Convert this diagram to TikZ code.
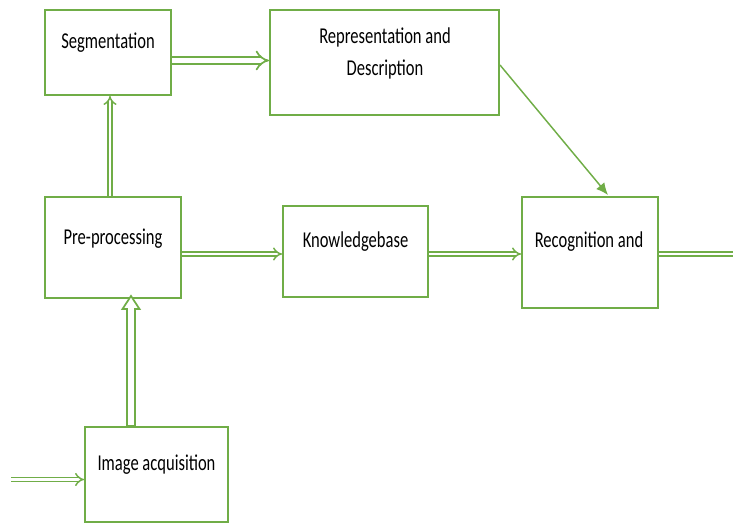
\documentclass[tikz,border=0pt]{standalone}
\usepackage{fontspec}
\setmainfont[FakeStretch=0.73]{Carlito}
\usepackage{tikz}
\usetikzlibrary{%
  arrows.meta,%
  calc%
}
\definecolor{leaf}{RGB}{112,173,71}
\tikzset{>=latex, box/.style = {draw=leaf, line width=1.5pt, inner sep=0pt},
  txt/.style = {font=\fontsize{17}{24}\selectfont, align=center, inner sep=0pt},
  dbl/.style = {draw=leaf, line width=1.1pt, double=white, double distance=2.2pt, -{Implies}},
  link/.style = {draw=leaf, line width=1.1pt, -{Latex[length=9pt,width=8pt]}}}

\begin{document}
\begin{tikzpicture}[x=0.75pt,y=-0.75pt]
    \useasboundingbox (0,0) rectangle (733,527);
    % boxes
    \node[box, minimum width=94.5pt, minimum height=63.75pt] (seg) at (108,52.5) {};
    \node[box, minimum width=171.75pt, minimum height=78.75pt] (rep) at (384.5,62.5) {};
    \node[box, minimum width=102pt, minimum height=75.75pt] (pre) at (113,247.5) {};
    \node[box, minimum width=108.75pt, minimum height=68.25pt] (know) at (355.5,251.5) {};
    \node[box, minimum width=102pt, minimum height=83.25pt] (rec) at (590,252.5) {};
    \node[box, minimum width=107.25pt, minimum height=71.25pt] (acq) at (156.5,474.5) {};
    % texts
    \node[txt] (seg-t) at ($(seg.north)+(0,34)$) {Segmentation};
    \node[txt] (rep-t) at ($(rep.north)+(0.5,44)$) {Representation and\\Description};
    \node[txt] (pre-t) at ($(pre.north)+(0,43)$) {Pre-processing};
    \node[txt] (know-t) at ($(know.north)+(0,37)$) {Knowledgebase};
    \node[txt] (rec-t) at ($(rec.north)+(-1,46)$) {Recognition and};
    \node[txt] (acq-t) at ($(acq.north)+(0,39)$) {Image acquisition};
    % connectors
    \coordinate (sr) at ($(seg.east)+(0,8)$);
    \draw[dbl, line width=1.3pt, double distance=3.8pt] (sr) -- (sr -| rep.west);
    \draw[dbl] ($(pre.north)+(-3,0)$) -- ($(seg.south)+(2,0)$);
    \coordinate (row) at (0,254);
    \draw[dbl] (pre.east |- row) -- (know.west |- row);
    \draw[dbl] (know.east |- row) -- (rec.west |- row);
    \coordinate (out) at (733,254);
    \draw[dbl, -] (rec.east |- out) -- (out);
    \coordinate (in) at (11,479.5);
    \draw[dbl] (in) -- (in -| acq.west);
    \draw[link] ($(rep.east)+(0,2.5)$) -- ($(rec.north)+(18,-1)$);
    % hollow arrow
    \coordinate (tip) at ($(pre.south)+(18,-3)$);
    \draw[leaf, line width=1.3pt, fill=white] (tip) -- ++(8.5,13) -- ++(-4.5,0)
      -- ($(acq.north -| tip)+(4,0)$) -- ($(acq.north -| tip)+(-4,0)$)
      -- ($(tip)+(-4,13)$) -- ++(-4.5,0) -- cycle;
\end{tikzpicture}
\end{document}
